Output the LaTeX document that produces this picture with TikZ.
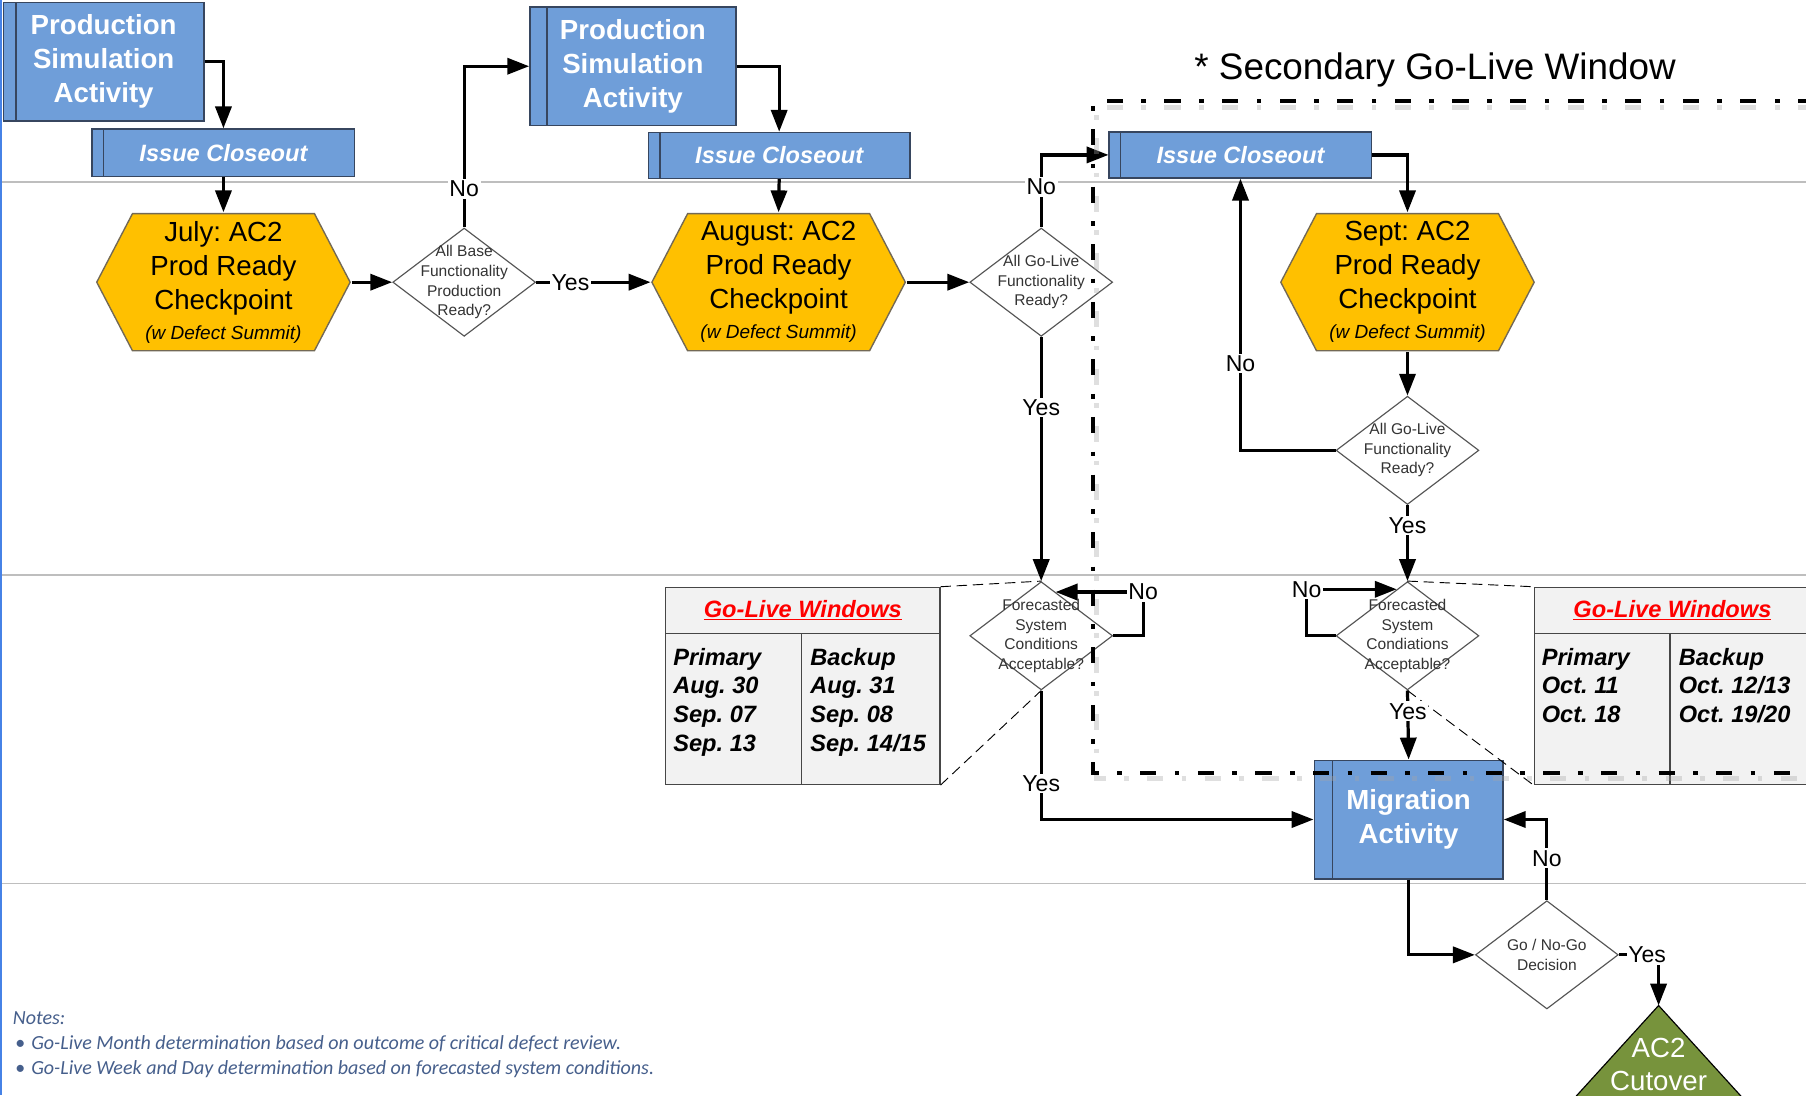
\documentclass[tikz,border=0pt]{standalone}
\usepackage{fontspec}
\setmainfont{Liberation Sans}
\newfontfamily\notesfont{Carlito}
\usetikzlibrary{arrows.meta, shapes.geometric, calc}

\definecolor{boxblue}{RGB}{111,158,217}
\definecolor{boxline}{RGB}{55,70,95}
\definecolor{hexgold}{RGB}{255,192,0}
\definecolor{hexline}{RGB}{115,105,85}
\definecolor{dline}{RGB}{85,85,85}
\definecolor{cutgreen}{RGB}{119,147,60}
\definecolor{tfill}{RGB}{242,242,242}
\definecolor{tline}{RGB}{70,70,70}
\definecolor{sepgray}{RGB}{190,190,190}
\definecolor{leftblue}{RGB}{70,130,230}
\definecolor{notecolor}{RGB}{70,95,140}

\newcommand\setfs[2]{\fontsize{#1}{#2}\selectfont}
\frenchspacing

\begin{document}
\begin{tikzpicture}[x=1pt, y=-1pt,
    procbox/.style={draw=boxline, fill=boxblue, line width=1.2pt, text=white, align=center, inner sep=0pt,
      path picture={\draw[boxline, line width=1.2pt] ([xshift=#1]path picture bounding box.north west) -- ([xshift=#1]path picture bounding box.south west);}},
    procbox/.default=11pt,
    checkpt/.style={fill=white, minimum width=222pt, minimum height=121pt, inner sep=0pt, align=center, font=\setfs{24}{29.5},
      path picture={\draw[hexline, fill=hexgold, line width=1.2pt]
        ([xshift=1pt]path picture bounding box.west)
        -- ([xshift=32pt,yshift=-1pt]path picture bounding box.north west)
        -- ([xshift=-32pt,yshift=-1pt]path picture bounding box.north east)
        -- ([xshift=-1pt]path picture bounding box.east)
        -- ([xshift=-32pt,yshift=1pt]path picture bounding box.south east)
        -- ([xshift=32pt,yshift=1pt]path picture bounding box.south west) -- cycle;}},
    decision/.style={diamond, draw=dline, fill=white, line width=1pt, minimum width=124pt, minimum height=94pt,
      inner sep=-20pt, align=center, text=black!80, font=\setfs{13.5}{17}},
    wintable/.style={draw=tline, fill=tfill, line width=1.2pt, minimum width=#1, minimum height=171pt, inner sep=0pt,
      path picture={
        \draw[tline, line width=1.2pt] ([yshift=-40pt]path picture bounding box.north west) -- ([yshift=-40pt]path picture bounding box.north east);
        \draw[tline, line width=1.2pt] ([xshift=118pt,yshift=-40pt]path picture bounding box.north west) -- ([xshift=118pt]path picture bounding box.south west);}},
    winhead/.style={text=red, font=\setfs{20.5}{25}\bfseries\itshape},
    wincol/.style={anchor=north west, inner sep=0pt, align=left, font=\setfs{20.5}{25}\bfseries\itshape},
    lbl/.style={fill=white, inner sep=1.5pt, font=\setfs{20}{24}},
    flow/.style={line width=2.8pt, -{Triangle[length=19pt,width=14pt]}},
    callout/.style={line width=0.8pt, dash pattern=on 9pt off 5pt},
    sepline/.style={draw=sepgray, line width=1.5pt},
    winframe/.style={line width=3.5pt, dash pattern=on 14pt off 16pt on 4pt off 16pt}]

    \useasboundingbox[fill=white] (0,0) rectangle (1568,951);

    \draw[sepline] (0,158) -- (1568,158);
    \draw[sepline] (0,499) -- (1568,499);
    \draw[sepline] (0,767) -- (1568,767);
    \draw[leftblue, line width=2pt] (1,0) -- (1,951);

    \node[wintable=238pt] (win1) at (697,595.5) {};
    \node[winhead] (win1h) at ([yshift=-20pt]win1.north) {\underline{Go-Live Windows}};
    \node[wincol] (win1p) at ([xshift=7pt,yshift=-53pt]win1.north west) {Primary\\Aug. 30\\Sep. 07\\Sep. 13};
    \node[wincol] (win1b) at ([xshift=126pt,yshift=-53pt]win1.north west) {Backup\\Aug. 31\\Sep. 08\\Sep. 14/15};

    \node[wintable=240pt] (win2) at (1452,595.5) {};
    \node[winhead] (win2h) at ([yshift=-20pt]win2.north) {\underline{Go-Live Windows}};
    \node[wincol] (win2p) at ([xshift=7pt,yshift=-53pt]win2.north west) {Primary\\Oct. 11\\Oct. 18};
    \node[wincol] (win2b) at ([xshift=126pt,yshift=-53pt]win2.north west) {Backup\\Oct. 12/13\\Oct. 19/20};

    \node[procbox=11pt, minimum width=174pt, minimum height=103pt, font=\setfs{24}{29.5}\bfseries] (ps1) at (90,53.5) {Production\\Simulation\\Activity};
    \node[procbox=10pt, minimum width=228pt, minimum height=41pt, font=\setfs{20.5}{24}\bfseries\itshape] (ic1) at (194,132.5) {Issue Closeout};
    \node[checkpt] (hex1) at (194,245) {July: AC2\\Prod Ready\\Checkpoint\\[-3.5pt]{\setfs{16.5}{20}\itshape (w Defect Summit)}};
    \node[decision] (d1) at (403,245) {All Base\\Functionality\\Production\\Ready?};

    \node[procbox=15pt, minimum width=179pt, minimum height=103pt, font=\setfs{24}{29.5}\bfseries] (ps2) at (549.5,57.5) {Production\\Simulation\\Activity};
    \node[procbox=10pt, minimum width=227pt, minimum height=40pt, font=\setfs{20.5}{24}\bfseries\itshape] (ic2) at (676.5,135) {Issue Closeout};
    \node[checkpt] (hex2) at (676,245) {August: AC2\\Prod Ready\\Checkpoint\\[-3.5pt]{\setfs{16.5}{20}\itshape (w Defect Summit)}};
    \node[decision] (d2) at (904,245) {All Go-Live\\Functionality\\Ready?};
    \node[decision] (d4) at (904,552) {Forecasted\\System\\Conditions\\Acceptable?};

    \node[procbox=10pt, minimum width=228pt, minimum height=40pt, font=\setfs{20.5}{24}\bfseries\itshape] (ic3) at (1077,134.5) {Issue Closeout};
    \node[checkpt] (hex3) at (1222,245) {Sept: AC2\\Prod Ready\\Checkpoint\\[-3.5pt]{\setfs{16.5}{20}\itshape (w Defect Summit)}};
    \node[decision] (d3) at (1222,391) {All Go-Live\\Functionality\\Ready?};
    \node[decision] (d5) at (1222,552) {Forecasted\\System\\Condiations\\Acceptable?};

    \node[procbox=16pt, minimum width=164pt, minimum height=103pt, font=\setfs{24}{29}\bfseries] (mig) at (1223,711.5) {Migration\\Activity};
    \node[decision] (d6) at (1343,829) {Go / No-Go\\Decision};

    \coordinate (cut) at (1440,873);
    \draw[black, line width=1pt, fill=cutgreen] (cut) -- (1340,983) -- (1540,983) -- cycle;
    \node[text=white, align=center, font=\setfs{24}{29}] (cuttext) at (1440,924) {AC2\\Cutover};

    \draw[callout] (win1.north east) -- (d4.north);
    \draw[callout] (win1.south east) -- (d4.south);
    \draw[callout] (d5.north) -- (win2.north west);
    \draw[callout] (d5.south) -- (win2.south west);

    \draw[flow] (ps1.east) -| (ic1.north);
    \draw[flow] (ic1.south) -- (hex1.north);
    \draw[flow] (hex1.east) -- (d1.west);
    \draw[flow] (d1.north) |- node[lbl, pos=0.12] {No} (ps2.west);
    \draw[flow] (d1.east) -- node[lbl, pos=0.3] {Yes} (hex2.west);
    \draw[flow] (ps2.east) -| (ic2.north);
    \draw[flow] (ic2.south) -- (hex2.north);
    \draw[flow] (hex2.east) -- (d2.west);
    \draw[flow] (d2.north) |- node[lbl, pos=0.28] {No} (ic3.west);
    \draw[flow] (d2.south) -- node[lbl, pos=0.29] {Yes} (d4.north);
    \draw[flow] (ic3.east) -| (hex3.north);
    \draw[flow] (hex3.south) -- (d3.north);
    \draw[flow] (d3.west) -| node[lbl, pos=0.66] {No} (ic3.south);
    \draw[flow] (d3.south) -- node[lbl, pos=0.27] {Yes} (d5.north);
    \draw[flow] (d4.east) -- ++(26,0) |- node[lbl] {No} ($(d4.north)!0.2!(d4.east)$);
    \draw[flow] (d5.west) -- ++(-25,0) |- node[lbl] {No} ($(d5.north)!0.15!(d5.west)$);
    \draw[flow] (d4.south) |- node[lbl, pos=0.36] {Yes} (mig.west);
    \draw[flow] (d5.south) -- node[lbl, pos=0.3] {Yes} (mig.north);
    \draw[flow] (mig.south) |- (d6.west);
    \draw[flow] (d6.north) |- node[lbl, pos=0.26] {No} (mig.east);
    \draw[flow] (d6.east) -| node[lbl, xshift=-10pt] {Yes} (cut);

    \draw[winframe, gray!70, opacity=0.35, line width=4.5pt] (1575,93) -- (952,93) -- (952,676) -- (1575,676);
    \draw[winframe] (1575,88) -- (949,88) -- (949,671) -- (1575,671);
    \node[font=\setfs{32}{38}] (wintitle) at (1246,61) {* Secondary Go-Live Window};

    \node[anchor=north west, inner sep=0pt, align=left, text=notecolor, font=\notesfont\itshape\setfs{17.4}{21.5}] (notes) at (11,878.5)
      {Notes:\\\makebox[16pt][l]{\hspace{2pt}\textbullet}Go-Live Month determination based on outcome of critical defect review.\\\makebox[16pt][l]{\hspace{2pt}\textbullet}Go-Live Week and Day determination based on forecasted system conditions.};
\end{tikzpicture}
\end{document}
